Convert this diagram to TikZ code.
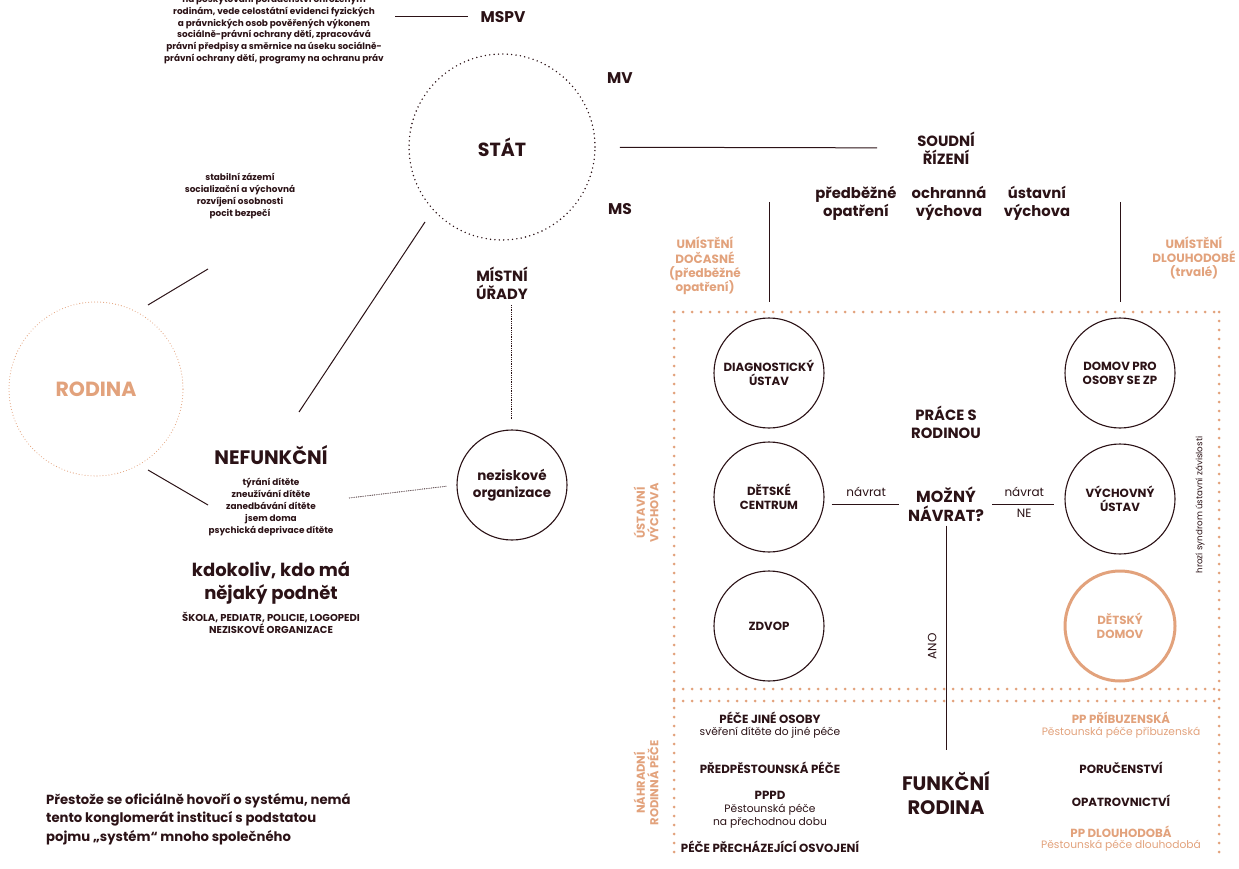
\documentclass[tikz,border=0pt]{standalone}
\usepackage{fontspec}
\setmainfont{Poppins}
\usetikzlibrary{positioning}
\definecolor{ink}{HTML}{2B1216}
\definecolor{peach}{HTML}{E2A27C}
\newcommand{\fsz}[2]{\fontsize{#1}{#2}\selectfont}

\begin{document}
\begin{tikzpicture}[x=1pt,y=-1pt,
  lbl/.style={text=ink,align=center,inner sep=0pt},
  note/.style={lbl,font=\bfseries\fsz{8.9}{11.8}},
  head/.style={lbl,font=\bfseries\fsz{14.8}{18}},
  mini/.style={lbl,font=\bfseries\fsz{15.5}{18}},
  big/.style={lbl,font=\bfseries\fsz{19.5}{24}},
  plain/.style={lbl,font=\fsz{12}{15}},
  soft/.style={lbl,text=peach,font=\bfseries\fsz{12}{14.2}},
  item/.style={lbl,font=\bfseries\fsz{11.8}{13}},
  sub/.style={lbl,font=\fsz{10.7}{13}},
  inst/.style={circle,draw=ink,line width=1.1pt,minimum size=110pt,inner sep=0pt,
    text=ink,align=center,font=\bfseries\fsz{11.8}{14}},
  rule/.style={draw=ink,line width=1pt},
  dots/.style={draw=peach,line width=3pt,line cap=round,dash pattern=on 0pt off 9pt},
  fine/.style={draw=ink,line width=0.8pt,dash pattern=on 0.8pt off 1pt}]
\useasboundingbox (0,0) rectangle (1239,869);

% state level
\node[note] (ukoly) at (274,29.5) {na poskytování poradenství ohroženým\\rodinám, vede celostátní evidenci fyzických\\a právnických osob pověřených výkonem\\sociálně-právní ochrany dětí, zpracovává\\právní předpisy a směrnice na úseku sociálně-\\právní ochrany dětí, programy na ochranu práv};
\node[mini] (mspv) at (503,17) {MSPV};
\node[mini] (mv) at (620,78) {MV};
\node[mini] (ms) at (620,209) {MS};
\node[circle,minimum size=186pt,inner sep=0pt,draw=ink,line width=1.6pt,line cap=round,
  dash pattern=on 0pt off 4.4pt,lbl,font=\bfseries\fsz{19}{23}] (stat) at (502,147) {STÁT};
\node[head] (soudni) at (946,148) {SOUDNÍ\\ŘÍZENÍ};
\node[head] (predb) at (856,203) {předběžné\\opatření};
\node[head] (ochr) at (949,203) {ochranná\\výchova};
\node[head] (ustv) at (1037,203) {ústavní\\výchova};
\node[head] (mistni) at (502,283) {MÍSTNÍ\\ÚŘADY};
\coordinate (m1) at (395,17);
\draw[rule,shorten >=12pt] (m1) -- (mspv.west);
\draw[rule,shorten <=24pt,shorten >=40pt] (stat) -- (soudni);

% family
\node[circle,minimum size=174pt,inner sep=0pt,draw=peach,line width=1.1pt,line cap=round,
  dash pattern=on 0pt off 3pt,text=peach,font=\bfseries\fsz{20.5}{24}] (rodina) at (96,389) {RODINA};
\node[note] (funkce) at (240,196) {stabilní zázemí\\socializační a výchovná\\rozvíjení osobnosti\\pocit bezpečí};
\node[big] (nefunkcni) at (271,455) {NEFUNKČNÍ};
\node[note] (rizika) at (271,507) {týrání dítěte\\zneužívání dítěte\\zanedbávání dítěte\\jsem doma\\psychická deprivace dítěte};
\node[lbl,font=\bfseries\fsz{18}{23}] (podnet) at (271,583) {kdokoliv, kdo má\\nějaký podnět};
\node[lbl,font=\bfseries\fsz{10}{12}] (kdo) at (271,623) {ŠKOLA, PEDIATR, POLICIE, LOGOPEDI\\NEZISKOVÉ ORGANIZACE};
\node[inst,font=\bfseries\fsz{13.5}{17.5}] (nezisk) at (512,485) {neziskové\\organizace};
\coordinate (r1) at (148,305); \coordinate (r2) at (208,269);
\coordinate (r3) at (148,470); \coordinate (r4) at (208,505);
\coordinate (s1) at (425,222); \coordinate (s2) at (299,412);
\coordinate (d1) at (511,305); \coordinate (d2) at (349,498);
\draw[rule] (r1) -- (r2);
\draw[rule] (r3) -- (r4);
\draw[rule] (s1) -- (s2);
\draw[fine,shorten >=10pt] (d1) -- (d1 |- nezisk.north);
\draw[fine,shorten >=10pt] (d2) -- (nezisk.west);

% placement
\node[soft] (docasne) at (705,266) {UMÍSTĚNÍ\\DOČASNÉ\\(předběžné\\opatření)};
\node[soft] (dlouhe) at (1194,258) {UMÍSTĚNÍ\\DLOUHODOBÉ\\(trvalé)};
\draw[dots] (674,312) -- (1219,312);
\draw[dots] (674,689) -- (1219,689);
\draw[dots] (674,701) -- (1219,701);
\draw[dots] (674,312) -- (674,860);
\draw[dots] (1219,312) -- (1219,860);
\node[soft,rotate=90,font=\bfseries\fsz{11.5}{13.5}] (ustavni) at (646,513) {ÚSTAVNÍ\\VÝCHOVA};
\node[soft,rotate=90,font=\bfseries\fsz{11.5}{13.5}] (nahradni) at (646,783) {NÁHRADNÍ\\RODINNÁ PÉČE};
\node[lbl,rotate=90,font=\fsz{8.7}{10}] (syndrom) at (1200,505) {hrozí syndrom ústavní závislosti};

% institutions
\node[inst] (diag) at (769,373) {DIAGNOSTICKÝ\\ÚSTAV};
\node[inst] (domov) at (1120,373) {DOMOV PRO\\OSOBY SE ZP};
\node[inst] (centrum) at (769,497) {DĚTSKÉ\\CENTRUM};
\node[inst] (vychovny) at (1120,499) {VÝCHOVNÝ\\ÚSTAV};
\node[inst] (zdvop) at (769,626) {ZDVOP};
\node[inst,draw=peach,line width=3pt,text=peach] (detsky) at (1120,626) {DĚTSKÝ\\DOMOV};
\coordinate (v1) at (769,202); \coordinate (v2) at (1120,202);
\draw[rule] (v1) -- ([yshift=15pt]diag.north);
\draw[rule] (v2) -- ([yshift=15pt]domov.north);

% return
\node[head] (prace) at (946,422) {PRÁCE S\\RODINOU};
\node[lbl,font=\bfseries\fsz{16}{19}] (navrat) at (946,504) {MOŽNÝ\\NÁVRAT?};
\draw[rule,shorten <=7pt,shorten >=9pt] (navrat.west -| centrum.east) -- node[plain,above=7pt] {návrat} (navrat.west);
\draw[rule,shorten <=8pt,shorten >=10pt] (navrat.east) -- node[plain,above=7pt] {návrat} node[plain,below=5pt] {NE} (navrat.east -| vychovny.west);
\node[big] (funkcni) at (946,793) {FUNKČNÍ\\RODINA};
\draw[rule,shorten <=4pt,shorten >=21pt] (navrat) -- node[plain,left=9pt,rotate=90,anchor=south] {ANO} (funkcni);

% substitute care
\node[item] (jine) at (770,718) {PÉČE JINÉ OSOBY};
\node[sub] (sverení) at (770,733) {svěření dítěte do jiné péče};
\node[item] (predpest) at (770,768) {PŘEDPĚSTOUNSKÁ PÉČE};
\node[item] (pppd) at (770,795) {PPPD};
\node[sub] (prechodna) at (770,816) {Pěstounská péče\\na přechodnou dobu};
\node[item] (osvojeni) at (770,847) {PÉČE PŘECHÁZEJÍCÍ OSVOJENÍ};
\node[item,text=peach] (pribuz) at (1121,718) {PP PŘÍBUZENSKÁ};
\node[sub,text=peach] (pribuz2) at (1121,733) {Pěstounská péče příbuzenská};
\node[item] (poruc) at (1121,768) {PORUČENSTVÍ};
\node[item] (opatr) at (1121,801) {OPATROVNICTVÍ};
\node[item,text=peach] (dlouho) at (1121,832) {PP DLOUHODOBÁ};
\node[sub,text=peach] (dlouho2) at (1121,846) {Pěstounská péče dlouhodobá};

% closing remark
\node[lbl,align=left,anchor=north west,font=\bfseries\fsz{13.2}{18.5}] (zaver) at (46,793) {Přestože se oficiálně hovoří o systému, nemá\\tento konglomerát institucí s podstatou\\pojmu „systém“ mnoho společného};
\end{tikzpicture}
\end{document}
